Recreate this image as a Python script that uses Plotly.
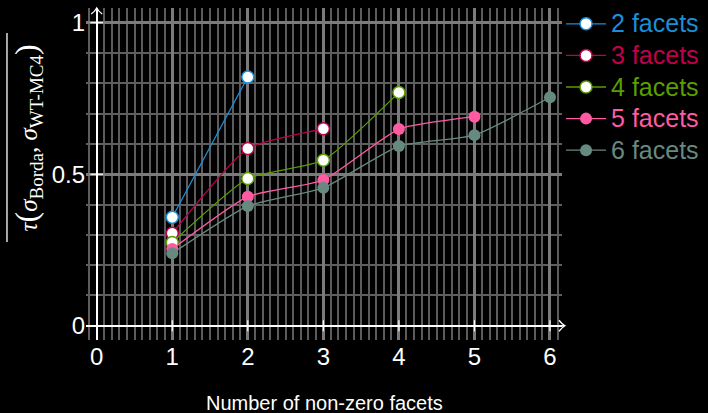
import plotly.graph_objects as go

# ---- data ----
x_vals = [1, 2, 3, 4, 5, 6]
facets_2 = [0.358, 0.821]
facets_3 = [0.305, 0.585, 0.650]
facets_4 = [0.275, 0.486, 0.546, 0.770]
facets_5 = [0.253, 0.426, 0.481, 0.649, 0.690]
facets_6 = [0.239, 0.395, 0.455, 0.593, 0.629, 0.754]
series = [facets_2, facets_3, facets_4, facets_5, facets_6]
series_names = ["2 facets", "3 facets", "4 facets", "5 facets", "6 facets"]
colors = ["#1a8fd8", "#c0004e", "#5a9e00", "#ff5aa2", "#678a80"]
filled = [False, False, False, True, True]
x_ticks = [0, 1, 2, 3, 4, 5, 6]
y_ticks = [0, 0.5, 1]
y_tick_labels = ["0", "0.5", "1"]
x_title = "Number of non-zero facets"

fig = go.Figure()

# small tick marks on the axis lines
fig.add_trace(go.Scatter(x=x_ticks, y=[0] * len(x_ticks), mode="markers",
                         marker=dict(symbol="line-ns", size=8, line=dict(color="white", width=1.2)),
                         showlegend=False, hoverinfo="skip"))
fig.add_trace(go.Scatter(x=[0] * len(y_ticks), y=y_ticks, mode="markers",
                         marker=dict(symbol="line-ew", size=9, line=dict(color="white", width=1.2)),
                         showlegend=False, hoverinfo="skip"))

for ys, name, col, fl in zip(series, series_names, colors, filled):
    fig.add_trace(go.Scatter(
        x=x_vals[:len(ys)], y=ys, mode="lines+markers",
        name=f'<span style="color:{col};font-size:25px">{name}</span>',
        line=dict(color=col, width=1.3, shape="spline", smoothing=0.5),
        marker=dict(size=12, color=col if fl else "white",
                    line=dict(color=col, width=1.5 if not fl else 0)),
    ))

axis_font = dict(family="Liberation Sans, Arial, sans-serif", size=24, color="white")

fig.update_layout(
    width=708, height=413,
    margin=dict(l=86, r=146, t=8, b=73, autoexpand=False),
    paper_bgcolor="black", plot_bgcolor="black",
    xaxis=dict(range=[-0.142, 6.159], tickvals=x_ticks, ticktext=[str(v) for v in x_ticks],
               showgrid=True, gridcolor="#7b7b7b", gridwidth=3,
               minor=dict(tick0=0, dtick=0.1, showgrid=True, gridcolor="#5c5c5c", gridwidth=1.5),
               zeroline=True, zerolinecolor="white", zerolinewidth=1.5,
               showline=False, ticks="", tickfont=axis_font),
    yaxis=dict(range=[-0.047, 1.0485], tickvals=y_ticks, ticktext=y_tick_labels,
               showgrid=True, gridcolor="#7b7b7b", gridwidth=3,
               minor=dict(tick0=0, dtick=0.1, showgrid=True, gridcolor="#5f5f5f", gridwidth=1.5),
               zeroline=True, zerolinecolor="white", zerolinewidth=1.5,
               showline=False, ticks="", tickfont=axis_font),
    legend=dict(x=0.998, y=1.015, xanchor="left", yanchor="top",
                bgcolor="rgba(0,0,0,0)", itemwidth=40,
                font=dict(family="Liberation Sans, Arial, sans-serif", size=22, color="white"),
                tracegroupgap=0),
    showlegend=True,
)

# axis arrows
fig.add_shape(type="path", xref="paper", yref="y", xsizemode="pixel", ysizemode="pixel",
              xanchor=1, yanchor=0,
              path="M 0,0 L 3,0 M -3,5.5 Q 0,1.5 3,0 Q 0,-1.5 -3,-5.5",
              line=dict(color="white", width=1.3), layer="above")
fig.add_shape(type="path", xref="x", yref="paper", xsizemode="pixel", ysizemode="pixel",
              xanchor=0, yanchor=1,
              path="M -5.5,-6 Q -1.5,-3 0,0 Q 1.5,-3 5.5,-6",
              line=dict(color="white", width=1.3), layer="above")

# x title
fig.add_annotation(text=x_title, xref="paper", yref="paper", x=0.5, y=-0.19,
                   xanchor="center", yanchor="middle", showarrow=False,
                   font=dict(family="Liberation Sans, Arial, sans-serif", size=20, color="white"))

# y title (overlined tau expression)
ytitle = ('<i>τ</i><span style="font-size:32px">(</span><i>σ</i>'
          '<sub><span style="font-size:19px">Borda</span></sub>, '
          '<i>σ</i><sub><span style="font-size:19px">WT-MC4</span></sub>'
          '<span style="font-size:32px">)</span>')
fig.add_annotation(text=ytitle, xref="paper", yref="paper", x=-0.122, y=0.61,
                   xanchor="center", yanchor="middle", textangle=-90, showarrow=False,
                   font=dict(family="Liberation Serif, DejaVu Serif, serif", size=25, color="white"))
fig.add_shape(type="line", xref="paper", yref="paper", x0=-0.166, x1=-0.166, y0=0.295, y1=0.925,
              line=dict(color="white", width=1.3))

fig.write_html("out.html", config={"displayModeBar": False},
               post_script="document.body.style.margin='0';document.body.style.background='black';")
